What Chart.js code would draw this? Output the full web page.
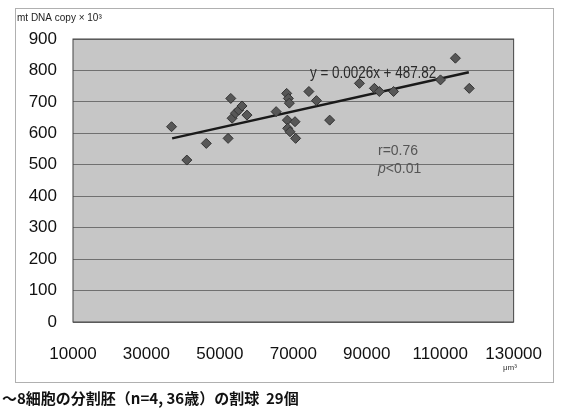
<!DOCTYPE html>
<html>
<head>
<meta charset="utf-8">
<script src="https://cdn.jsdelivr.net/npm/chart.js@4.4.0/dist/chart.umd.min.js"></script>
<style>
  html, body { margin: 0; padding: 0; background: #fff; }
  #wrap { width: 564px; height: 411px; position: relative; }
</style>
</head>
<body>
<div id="wrap"><canvas id="mtChart" width="564" height="411"></canvas></div>
<script>
// blastomere volume (um3) vs mt DNA copy (x10^3)
const volumes = [36840, 41000, 46300, 52240, 52970, 53330, 54240, 55130, 56030, 57380,
  65320, 68190, 68650, 68920, 68380, 70460, 68470, 69100, 70630, 74240,
  76300, 79900, 88000, 92080, 93430, 97300, 110080, 114140, 117920];
const copies = [621, 515, 568, 584, 711, 648, 664, 674, 687, 658,
  669, 727, 711, 696, 642, 637, 616, 605, 584, 733,
  704, 642, 759, 743, 733, 733, 770, 839, 743];

// trend line ends as drawn
const trendX = [37000, 117800];
const trendY = [584, 794];

const yTicks = [0, 100, 200, 300, 400, 500, 600, 700, 800, 900];
const xTicks = [10000, 30000, 50000, 70000, 90000, 110000, 130000];

const sans = "'Liberation Sans', Arial, sans-serif";

// squeezed text, the picture uses a narrow face
function narrowText(ctx, txt, x, y, sx) {
  ctx.save();
  ctx.translate(x, y);
  ctx.scale(sx, 1);
  ctx.fillText(txt, 0, 0);
  ctx.restore();
}

// grey plot background + frame + extra texts
const decor = {
  id: 'decor',
  beforeDraw(chart) {
    const { ctx, chartArea: a } = chart;
    ctx.save();
    ctx.fillStyle = '#fff';
    ctx.fillRect(0, 0, chart.width, chart.height);
    ctx.strokeStyle = '#b0b0b0';
    ctx.lineWidth = 1;
    ctx.strokeRect(15.5, 8.5, 538, 374);
    ctx.fillStyle = '#c6c6c6';
    ctx.fillRect(a.left, a.top, a.right - a.left, a.bottom - a.top);
    ctx.restore();
  },
  afterDraw(chart) {
    const { ctx, chartArea: a } = chart;
    ctx.save();
    ctx.strokeStyle = '#444';
    ctx.lineWidth = 1;
    ctx.strokeRect(a.left, a.top, a.right - a.left, a.bottom - a.top);

    ctx.fillStyle = '#222';
    ctx.font = '10px ' + sans;
    ctx.textBaseline = 'middle';
    ctx.fillText('mt DNA copy × 10³', 17, 18);

    ctx.font = '16px ' + sans;
    ctx.fillStyle = '#2a2a2a';
    narrowText(ctx, 'y = 0.0026x + 487.82', 310, 74, 0.84);

    ctx.fillStyle = '#555';
    ctx.font = '14px ' + sans;
    ctx.fillText('r=0.76', 378, 151);
    ctx.font = 'italic 14px ' + sans;
    ctx.fillText('p', 378, 169);
    const pw = ctx.measureText('p').width;
    ctx.font = '14px ' + sans;
    ctx.fillText('<0.01', 378 + pw, 169);

    ctx.fillStyle = '#333';
    ctx.font = '8px ' + sans;
    ctx.fillText('μm³', 503, 368);

    ctx.fillStyle = '#111';
    ctx.font = "bold 15px 'Noto Sans CJK JP', sans-serif";
    ctx.fillText('〜8細胞の分割胚（n=4, 36歳）の割球  29個', 2, 398);
    ctx.restore();
  }
};

new Chart(document.getElementById('mtChart'), {
  type: 'scatter',
  data: {
    datasets: [
      {
        label: 'copies',
        data: volumes.map((v, i) => ({ x: v, y: copies[i] })),
        pointStyle: 'rectRot',
        pointRadius: 5,
        backgroundColor: '#575757',
        borderColor: '#333',
        borderWidth: 1
      },
      {
        label: 'trend',
        data: trendX.map((v, i) => ({ x: v, y: trendY[i] })),
        showLine: true,
        pointRadius: 0,
        borderColor: '#1a1a1a',
        borderWidth: 2.5
      }
    ]
  },
  options: {
    responsive: false,
    animation: false,
    layout: { padding: { top: 39, right: 47, bottom: 44, left: 0 } },
    plugins: { legend: { display: false }, tooltip: { enabled: false } },
    scales: {
      x: {
        type: 'linear',
        min: 10000,
        max: 130000,
        afterBuildTicks: s => { s.ticks = xTicks.map(v => ({ value: v })); },
        afterFit: s => { s.height = 45; },
        grid: { display: false, drawTicks: false },
        border: { display: false },
        ticks: { padding: 22, color: '#111', font: { family: sans, size: 17 }, maxRotation: 0, callback: v => String(v) }
      },
      y: {
        min: 0,
        max: 900,
        afterBuildTicks: s => { s.ticks = yTicks.map(v => ({ value: v })); },
        afterFit: s => { s.width = 73; },
        grid: { color: '#707070', lineWidth: 1, drawTicks: false },
        border: { display: false },
        ticks: { padding: 16, color: '#111', font: { family: sans, size: 17 } }
      }
    }
  },
  plugins: [decor]
});
</script>
</body>
</html>
